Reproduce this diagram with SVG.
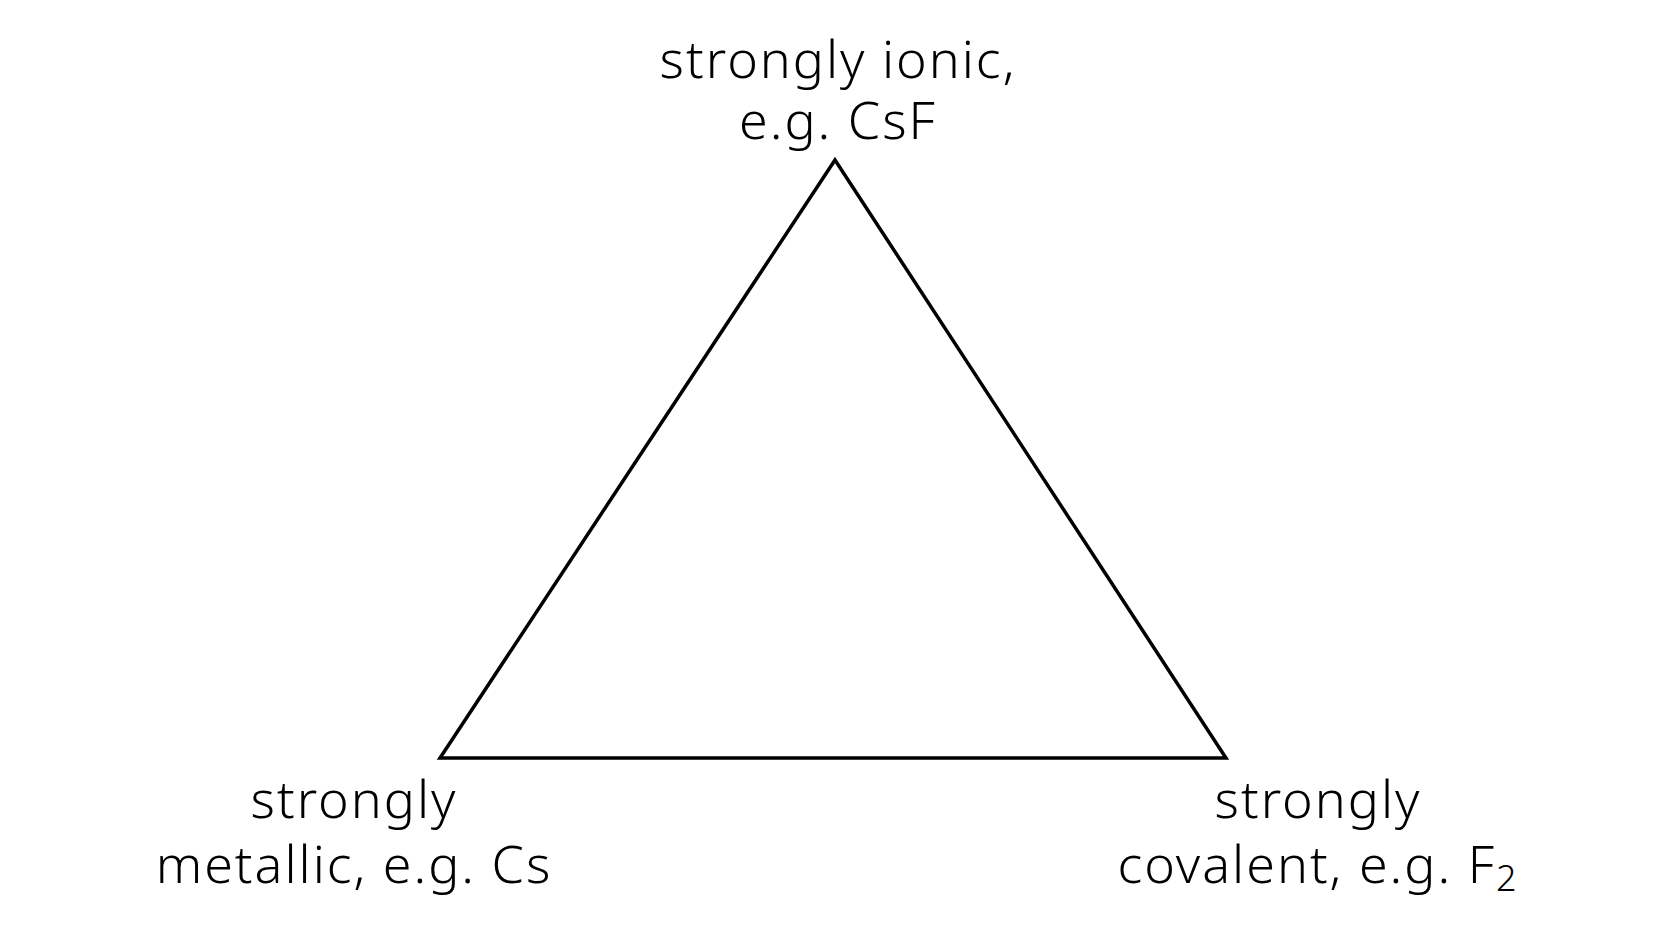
<svg xmlns="http://www.w3.org/2000/svg" width="1672" height="941" viewBox="0 0 1672 941">
<style>
.lbl{font-family:"Noto Sans","Open Sans","Liberation Sans",sans-serif;font-size:52px;font-weight:300;letter-spacing:2px;fill:#000;text-anchor:middle}
.edge{fill:none;stroke:#000;stroke-width:3.5;stroke-linejoin:miter}
</style>
<rect width="1672" height="941" fill="#fff"/>
<g id="connectors">
<polygon class="edge" points="835,160 1226,758 440,758"/>
</g>
<g id="node-ionic">
<text class="lbl" x="838" y="78">strongly ionic,</text>
<text class="lbl" x="838" y="139">e.g. CsF</text>
</g>
<g id="node-metallic">
<text class="lbl" x="354" y="818">strongly</text>
<text class="lbl" x="354" y="883">metallic, e.g. Cs</text>
</g>
<g id="node-covalent">
<text class="lbl" x="1318" y="818">strongly</text>
<text class="lbl" x="1318" y="883">covalent, e.g. F<tspan font-size="36" dy="8">2</tspan></text>
</g>
</svg>
